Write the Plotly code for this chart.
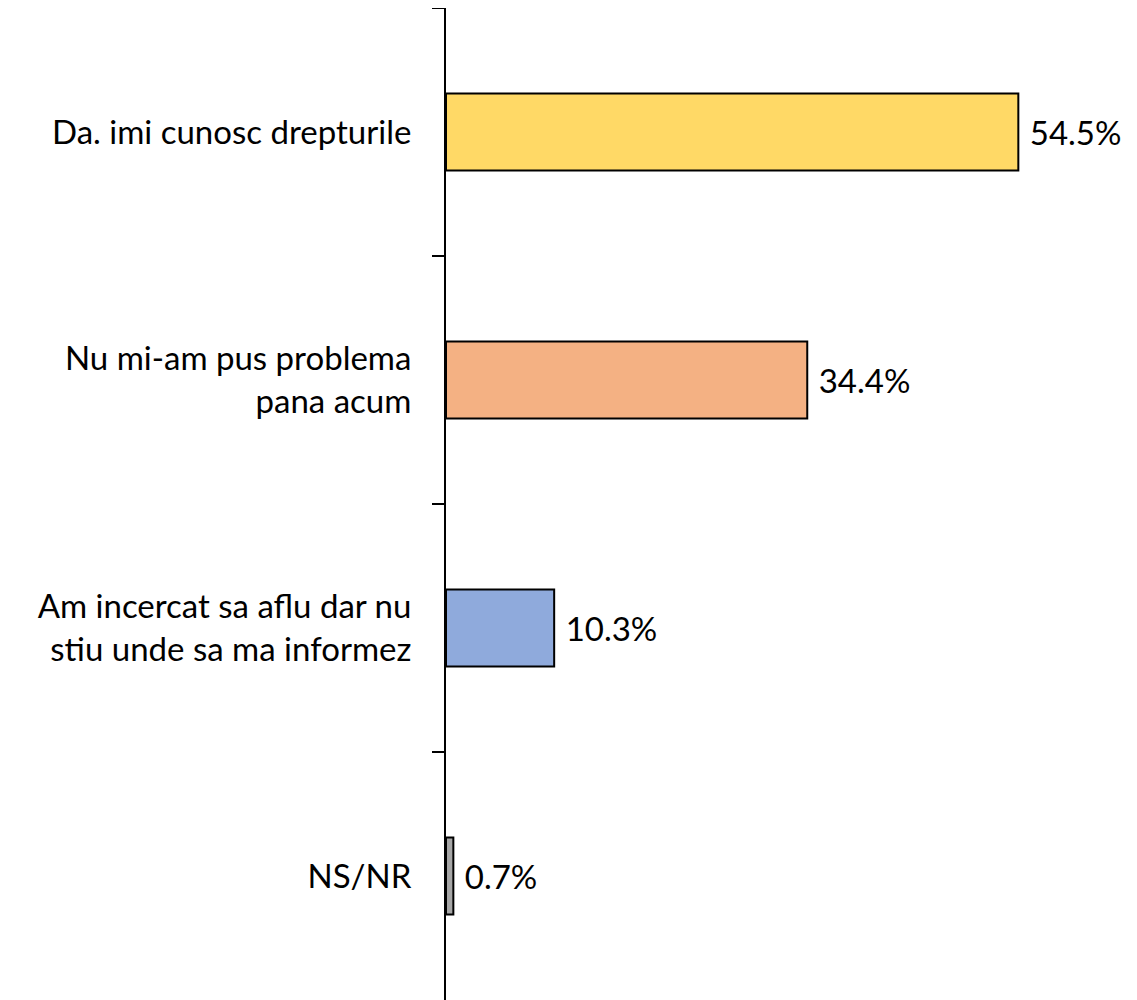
import plotly.graph_objects as go

categories = ["Da. imi cunosc drepturile", "Nu mi-am pus problema<br>pana acum",
              "Am incercat sa aflu dar nu<br>stiu unde sa ma informez", "NS/NR"]
values = [54.5, 34.4, 10.3, 0.7]
colors = ["#FFD966", "#F4B183", "#8FAADC", "#A6A6A6"]
labels = ["54.5%", "34.4%", "10.3%", "0.7%"]

FONT = "Lato"

fig = go.Figure(go.Bar(
    y=categories, x=values, orientation="h",
    marker=dict(color=colors, line=dict(color="black", width=2)),
    text=[" " + t for t in labels], textposition="outside", cliponaxis=False,
    textfont=dict(family=FONT, size=33, color="black"),
    width=0.31,
))

# page body has an 8px margin, so the figure is sized to fit inside it
fig.update_layout(
    width=1129, height=992,
    margin=dict(l=438, r=0, t=0, b=0, autoexpand=False),
    plot_bgcolor="white", paper_bgcolor="white",
    showlegend=False,
    font=dict(family=FONT, size=33, color="black"),
)
fig.update_xaxes(range=[0, 65.8], visible=False, automargin=False)
fig.update_yaxes(
    autorange="reversed", showline=True, linecolor="black", linewidth=2,
    ticks="outside", tickson="boundaries", ticklen=12, tickwidth=2, tickcolor="black",
    ticklabelstandoff=26, showgrid=False, automargin=False,
)

fig.write_html("out.html")
